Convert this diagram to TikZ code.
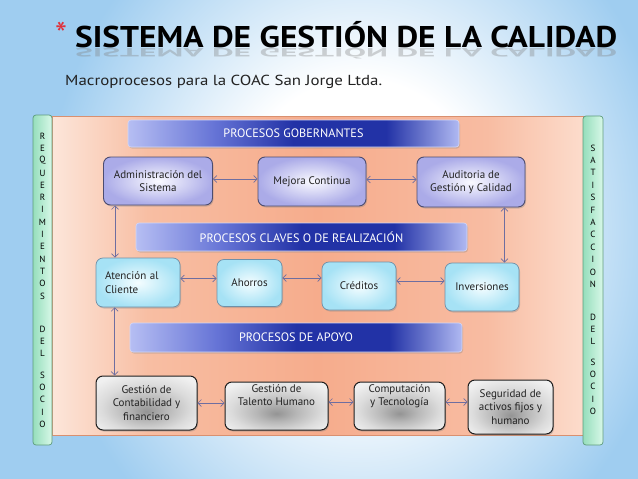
\documentclass[tikz,border=0pt]{standalone}
\usepackage{fontspec}
\setmainfont{PT Sans}
\usetikzlibrary{shadows,arrows.meta}
\definecolor{bgblue}{HTML}{9FCDF0}
\definecolor{sal0}{HTML}{FCE6DA}
\definecolor{sal1}{HTML}{F8BEA3}
\definecolor{sal2}{HTML}{F6AC8C}
\definecolor{sal3}{HTML}{F8BCA2}
\definecolor{sal4}{HTML}{FCDCCC}
\definecolor{salB}{HTML}{D99070}
\definecolor{banL}{HTML}{B6BEF3}
\definecolor{banM}{HTML}{6674D6}
\definecolor{banD}{HTML}{2232A6}
\definecolor{banR}{HTML}{B0B9F2}
\definecolor{lavin}{HTML}{FAFAFF}
\definecolor{lavout}{HTML}{ABABE8}
\definecolor{lavB}{HTML}{4C4C70}
\definecolor{cyin}{HTML}{F4FDFF}
\definecolor{cyout}{HTML}{A6E2F5}
\definecolor{cyB}{HTML}{6F90A8}
\definecolor{grB}{HTML}{1E1E1E}
\definecolor{grnL}{HTML}{96DEBC}
\definecolor{grnR}{HTML}{D8F8E8}
\definecolor{grnB}{HTML}{5E9C7C}
\definecolor{arrc}{HTML}{6E6EA0}
\definecolor{txt}{HTML}{222222}
\definecolor{astred}{HTML}{E0303A}
\pgfdeclareradialshading{bgrad}{\pgfpoint{0bp}{0bp}}{color(0bp)=(white); color(9bp)=(white); color(22bp)=(bgblue); color(50bp)=(bgblue)}
\pgfdeclarehorizontalshading{bannershade}{100bp}{color(0bp)=(banL); color(25bp)=(banL); color(38bp)=(banM); color(50bp)=(banD); color(64bp)=(banD); color(75bp)=(banR); color(100bp)=(banR)}
\pgfdeclarehorizontalshading{salshade}{100bp}{color(0bp)=(sal0); color(25bp)=(sal0); color(34bp)=(sal1); color(50bp)=(sal2); color(66bp)=(sal3); color(75bp)=(sal4); color(100bp)=(sal4)}
\pgfdeclareradialshading{grshade}{\pgfpoint{0bp}{-8bp}}{color(0bp)=(black!42); color(10bp)=(black!28); color(22bp)=(black!14); color(32bp)=(black!6); color(50bp)=(black!6)}
\tikzset{
  boxbase/.style={rounded corners=7pt, align=center, inner sep=2pt, text=txt,
    font=\fontsize{11}{13.5}\selectfont,
    drop shadow={shadow xshift=1pt, shadow yshift=-1.5pt, opacity=0.35}},
  lavbox/.style={boxbase, draw=lavB, line width=0.9pt, inner color=lavin, outer color=lavout},
  cybox/.style={boxbase, draw=cyB, line width=0.7pt, inner color=cyin, outer color=cyout},
  grbox/.style={boxbase, draw=grB, line width=1pt, shading=grshade},
  banner/.style={rounded corners=3pt, shading=bannershade, draw=banL!60!white, line width=0.6pt,
    text=white, font=\fontsize{12.2}{14}\selectfont,
    drop shadow={shadow xshift=1pt, shadow yshift=-1.5pt, opacity=0.3}},
  sidebar/.style={rounded corners=3pt, draw=grnB, line width=0.7pt, left color=grnL, right color=grnR},
  lett/.style={inner sep=0pt, text=black, font=\fontsize{9}{9}\selectfont},
  dar/.style={draw=arrc, line width=0.7pt, {Straight Barb[length=3.5pt,width=7pt]}-{Straight Barb[length=3.5pt,width=7pt]}}
}
\begin{document}
\begin{tikzpicture}[x=1pt,y=-1pt]
\useasboundingbox (0,0) rectangle (638,479);
% background
\begin{scope}
\clip (0,0) rectangle (638,479);
\fill[bgblue] (0,0) rectangle (638,479);
\shade[shading=bgrad] (360,230) ellipse (360 and 420);
\end{scope}
% title
\node[anchor=center, inner sep=0pt, text=astred, font=\fontsize{34}{34}\selectfont] (ast) at (61,34) {*};
\node[anchor=base west, inner sep=0pt, text=gray, opacity=0.35] (titlerefl) at (75,48)
  {\scalebox{1}[-0.4]{\resizebox{542pt}{\height}{\fontsize{30}{30}\selectfont\bfseries SISTEMA DE GESTIÓN DE LA CALIDAD}}};
\node[anchor=base west, inner sep=0pt, text=black] (title) at (75,47)
  {\resizebox{542pt}{\height}{\fontsize{30}{30}\selectfont\bfseries SISTEMA DE GESTIÓN DE LA CALIDAD}};
\node[anchor=base west, inner sep=0pt, text=txt] (sub) at (65,85)
  {\resizebox{317pt}{\height}{\fontsize{14.5}{15}\selectfont Macroprocesos para la COAC San Jorge Ltda.}};
% main area
\node[draw=salB, line width=0.6pt, shading=salshade,
  minimum width=531pt, minimum height=319pt, inner sep=0pt] (main) at (317.5,275.5) {};
\node[sidebar, minimum width=19pt, minimum height=330pt, inner sep=0pt] (lbar) at (42.5,280) {};
\node[sidebar, minimum width=20pt, minimum height=329pt, inner sep=0pt] (rbar) at (593,280.5) {};
\foreach \l/\yy [count=\i] in {R/136,E/148.3,Q/160.6,U/172.9,E/185.2,R/197.5,I/209.8,M/222.1,I/234.4,E/246.7,N/259,T/271.3,O/283.6,S/295.9,D/329,E/341.3,L/353.6,S/375,O/387.3,C/399.6,I/411.9,O/424.2}
  \node[lett] (ll\i) at (42.5,\yy) {\l};
\foreach \l/\yy [count=\i] in {S/148,A/160.4,T/172.8,I/185.2,S/197.6,F/210,A/222.4,C/234.8,C/247.2,I/259.6,O/272,N/284.4,D/317,E/329.4,L/341.8,S/362,O/374.4,C/386.8,I/399.2,O/411.6}
  \node[lett] (rl\i) at (593,\yy) {\l};
% banners
\node[banner, minimum width=331pt, minimum height=27pt] (gob) at (293.5,133.5) {PROCESOS GOBERNANTES};
\node[banner, minimum width=331pt, minimum height=28pt] (cla) at (301.5,237) {PROCESOS CLAVES O DE REALIZACIÓN};
\node[banner, minimum width=332pt, minimum height=29pt] (apo) at (296,337.5) {PROCESOS DE APOYO};
% row 1
\node[lavbox, minimum width=109pt, minimum height=48pt] (adm) at (158,181) {Administración del\\Sistema};
\node[lavbox, minimum width=108pt, minimum height=49pt] (mej) at (312,181.5) {Mejora Continua};
\node[lavbox, minimum width=108pt, minimum height=50pt] (aud) at (471,182) {Auditoria de\\Gestión y Calidad};
% row 2
\node[cybox, minimum width=84pt, minimum height=49pt, text width=66pt, align=left] (ate) at (138,282.5) {Atención al\\Cliente};
\node[cybox, minimum width=65pt, minimum height=47pt] (aho) at (249.5,283) {Ahorros};
\node[cybox, minimum width=74pt, minimum height=48pt] (cre) at (359,286) {Créditos};
\node[cybox, minimum width=74pt, minimum height=48pt] (inv) at (482,287) {Inversiones};
% row 3
\node[grbox, minimum width=101pt, minimum height=54pt] (gcf) at (146.5,403) {Gestión de\\Contabilidad y\\financiero};
\node[grbox, minimum width=103pt, minimum height=48pt] (gth) at (276.5,406) {Gestión de\\Talento Humano\\[8pt]\mbox{}};
\node[grbox, minimum width=91pt, minimum height=48pt] (com) at (399.5,406) {Computación\\y Tecnología\\[8pt]\mbox{}};
\node[grbox, minimum width=85pt, minimum height=54pt] (seg) at (510.5,407) {Seguridad de\\activos fijos y\\humano};
% connectors
\draw[dar] ([yshift=2pt]adm.east) -- ([yshift=2pt]adm.east -| mej.west);
\draw[dar] ([yshift=2pt]mej.east) -- ([yshift=2pt]mej.east -| aud.west);
\draw[dar] ([xshift=12pt]adm.south west) -- ([xshift=12pt]adm.south west |- ate.north);
\draw[dar] ([xshift=-21pt]aud.south east) -- ([xshift=-21pt]aud.south east |- inv.north);
\draw[dar] ([yshift=4pt]ate.east) -- ([yshift=4pt]ate.east -| aho.west);
\draw[dar] ([yshift=5pt]aho.east) -- ([yshift=5pt]aho.east -| cre.west);
\draw[dar] ([yshift=5pt]cre.east) -- ([yshift=5pt]cre.east -| inv.west);
\draw[dar] ([xshift=19pt]ate.south west) -- ([xshift=19pt]ate.south west |- gcf.north);
\draw[dar] (gcf.east) -- (gcf.east -| gth.west);
\draw[dar] ([yshift=4pt]gth.east) -- ([yshift=4pt]gth.east -| com.west);
\draw[dar] ([yshift=4pt]com.east) -- ([yshift=4pt]com.east -| seg.west);
\end{tikzpicture}
\end{document}
